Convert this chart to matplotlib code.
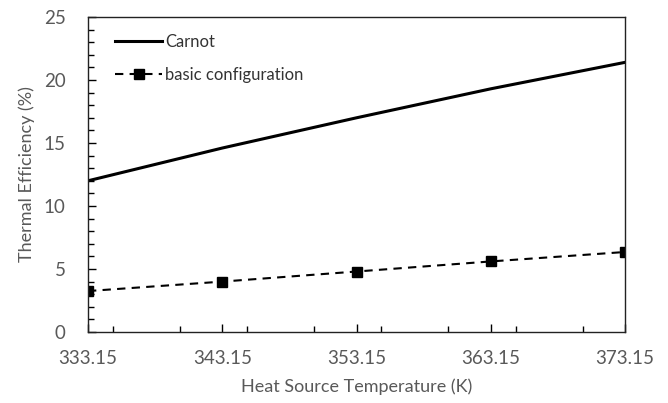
import matplotlib.pyplot as plt
from matplotlib.ticker import MultipleLocator

# heat source temperature (K)
temps = [333.15, 343.15, 353.15, 363.15, 373.15]
# thermal efficiency (%)
carnot = [12.0, 14.6, 17.0, 19.3, 21.4]
basic = [3.25, 4.0, 4.8, 5.6, 6.35]

plt.rcParams['font.family'] = ['Lato', 'DejaVu Sans']
grey = '#595959'

fig = plt.figure(figsize=(6.68, 4.03), dpi=100)
ax = fig.add_axes([88 / 668, 1 - 332 / 403, (625 - 88) / 668, (332 - 17) / 403])

ax.plot(temps, carnot, color='black', lw=2.2, label='Carnot')
ax.plot(temps, basic, color='black', lw=1.5, ls=(0, (4, 3)), marker='s', ms=7,
        label='basic configuration')

ax.set_xlim(333.15, 373.15)
ax.set_ylim(0, 25)
ax.set_xticks(temps)
ax.set_xticklabels(['%.2f' % t for t in temps])
ax.xaxis.set_minor_locator(MultipleLocator(5))
ax.yaxis.set_major_locator(MultipleLocator(5))
ax.yaxis.set_minor_locator(MultipleLocator(1))

ax.tick_params(which='both', direction='in', colors='black', labelcolor=grey,
               labelsize=13.5)
ax.tick_params(which='major', length=6, width=1)
ax.tick_params(which='minor', length=4, width=1)
ax.tick_params(axis='x', pad=13)
ax.tick_params(axis='y', pad=16)
for s in ax.spines.values():
    s.set_linewidth(1)
    s.set_color('#222222')

ax.set_xlabel('Heat Source Temperature (K)', color=grey, fontsize=13, labelpad=8)
ax.set_ylabel('Thermal Efficiency (%)', color=grey, fontsize=13, labelpad=6)

leg = ax.legend(loc='upper left', frameon=False, fontsize=12, handlelength=2.8,
                handletextpad=0.2, labelspacing=1.05, borderaxespad=0.6,
                bbox_to_anchor=(0.02, 1.0))
for t in leg.get_texts():
    t.set_color('#333333')

fig.savefig('out.png', dpi=100)
